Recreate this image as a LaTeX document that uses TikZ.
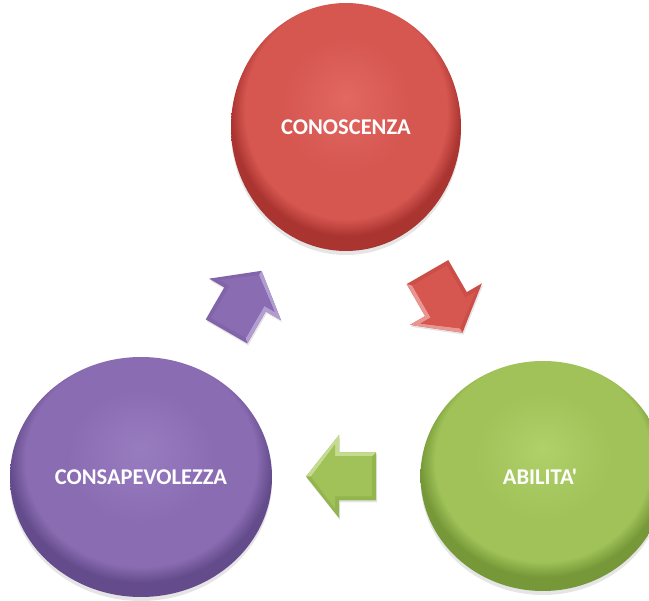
\documentclass[tikz,border=0pt]{standalone}
\usepackage{fontspec}
\setmainfont{Carlito}[Ligatures=TeXOff]
\usetikzlibrary{shadows,calc}
\definecolor{redhi}{RGB}{226,104,98}
\definecolor{redmid}{RGB}{214,86,80}
\definecolor{redrim}{RGB}{170,52,48}
\definecolor{purhi}{RGB}{152,124,192}
\definecolor{purmid}{RGB}{138,108,178}
\definecolor{purrim}{RGB}{100,76,140}
\definecolor{grnhi}{RGB}{176,208,106}
\definecolor{grnmid}{RGB}{160,194,88}
\definecolor{grnrim}{RGB}{118,152,56}
\pgfdeclareradialshading{redball}{\pgfpoint{0bp}{6bp}}{color(0bp)=(redhi); color(14bp)=(redmid); color(22bp)=(redmid); color(25bp)=(redrim); color(50bp)=(redrim)}
\pgfdeclareradialshading{purball}{\pgfpoint{0bp}{6bp}}{color(0bp)=(purhi); color(14bp)=(purmid); color(22bp)=(purmid); color(25bp)=(purrim); color(50bp)=(purrim)}
\pgfdeclareradialshading{grnball}{\pgfpoint{0bp}{6bp}}{color(0bp)=(grnhi); color(14bp)=(grnmid); color(22bp)=(grnmid); color(25bp)=(grnrim); color(50bp)=(grnrim)}
\tikzset{
  bubble/.style={circle, inner sep=0pt, text=white,
    drop shadow={opacity=0.2, shadow xshift=0pt, shadow yshift=-4pt}},
  label text/.style={text=white, font=\bfseries\fontsize{22.5}{26}\selectfont},
  pics/blockarrow/.style n args={3}{code={
    \fill[#2, drop shadow={opacity=0.2, shadow xshift=1pt, shadow yshift=-2pt}]
      (36,0) -- (3,41.5) -- (3,24) -- (-34,24) -- (-34,-24) -- (3,-24) -- (3,-41.5) -- cycle;
    \fill[#3] (36,0) -- (3,41.5) -- (3,24) -- (-34,24) -- (-30,20) -- (7,20) -- (7,32) -- (31,0) -- cycle;
    \fill[#1] (31,0) -- (7,32) -- (7,20) -- (-30,20) -- (-30,-20) -- (7,-20) -- (7,-32) -- cycle;
  }}
}
\begin{document}
\begin{tikzpicture}[x=1pt,y=-1pt]
\useasboundingbox[fill=white] (0,0) rectangle (649,601);
\node[bubble, minimum size=230pt, yscale=248/230, shading=redball] (con) at (346,127) {};
\node[label text] (tcon) at (con.center) {CONOSCENZA};
\node[bubble, minimum size=240pt, xscale=262/240, shading=purball] (cons) at (141,477) {};
\node[label text] (tcons) at (cons.center) {CONSAPEVOLEZZA};
\node[bubble, minimum size=230pt, xscale=245/230, shading=grnball] (abi) at (543,476) {};
\node[label text] (tabi) at (540,477) {ABILITA'};
\pic[rotate=-60] at ($(con)!0.5!(abi)$) {blockarrow={redmid}{redmid!75!redrim}{redhi!70!white}};
\pic[rotate=180] at ($(abi)!0.5!(cons)$) {blockarrow={grnmid}{grnmid!70!grnrim}{grnhi!75!white}};
\pic[rotate=60] at ($(cons)!0.5!(con)$) {blockarrow={purmid}{purmid!75!purrim}{purhi!75!white}};
\end{tikzpicture}
\end{document}
